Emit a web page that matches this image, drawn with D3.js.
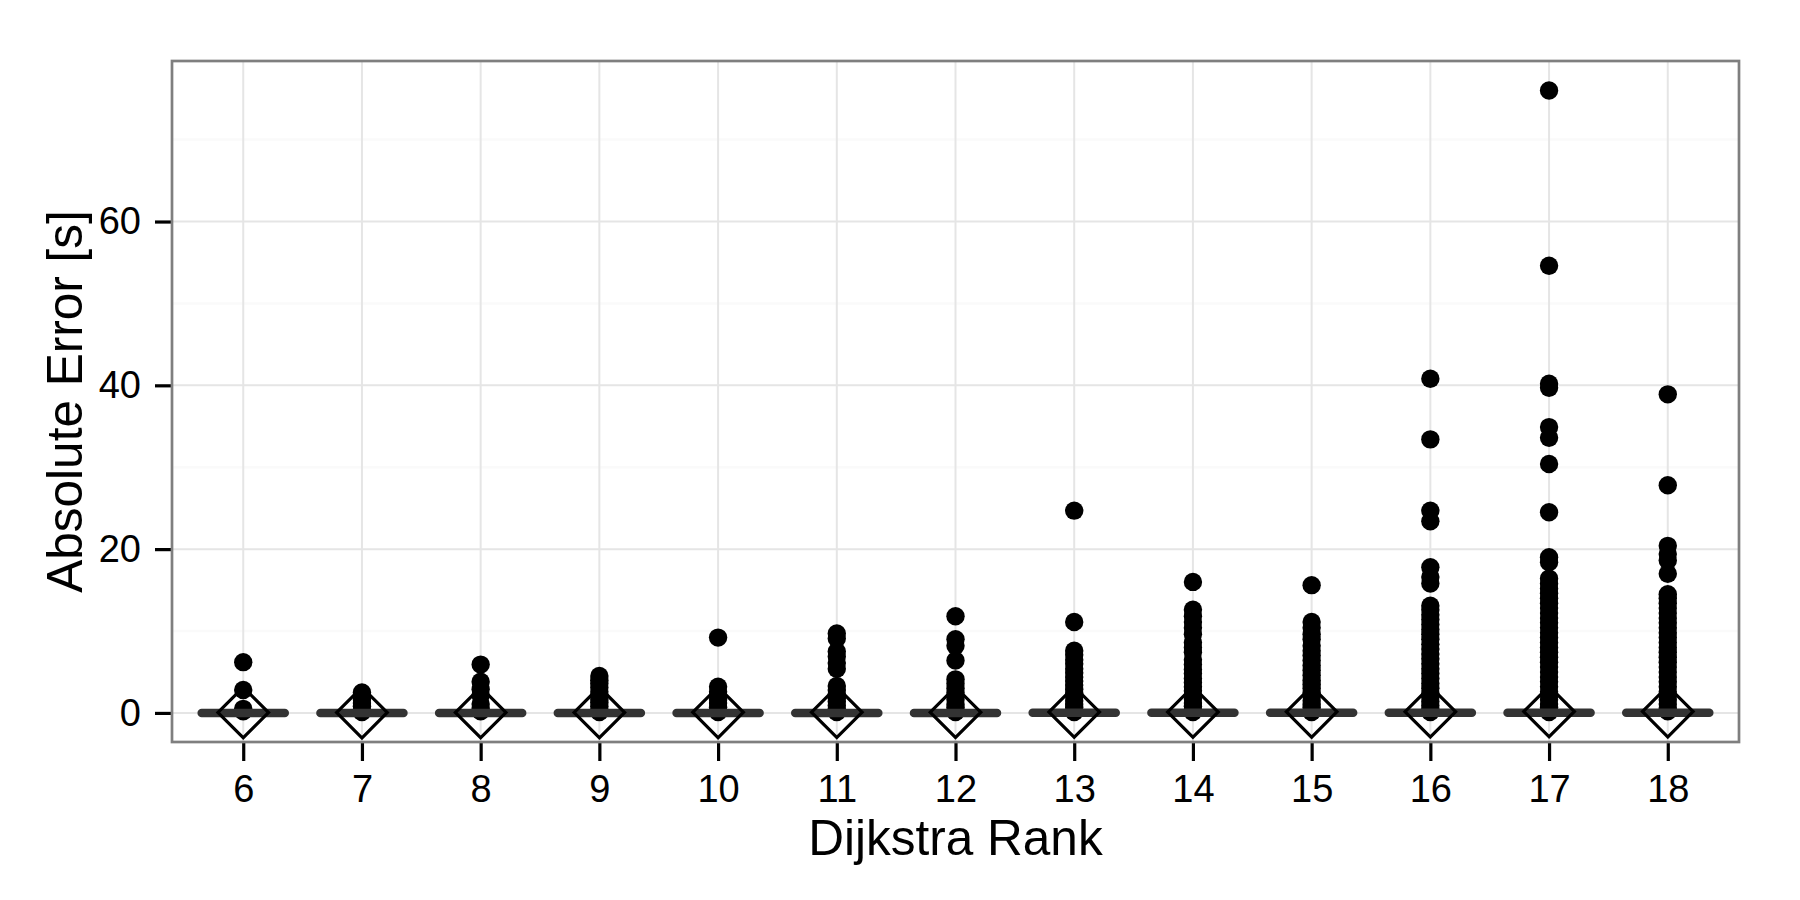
<!DOCTYPE html>
<html>
<head>
<meta charset="utf-8">
<script src="https://d3js.org/d3.v7.min.js"></script>
<style>
  body { margin: 0; background: #fff; }
  text { font-family: "Liberation Sans", Arial, Helvetica, sans-serif; }
</style>
</head>
<body>
<div id="chart"></div>
<script>
// Data
var ranks = [6, 7, 8, 9, 10, 11, 12, 13, 14, 15, 16, 17, 18];

// outlier points (absolute error in seconds) per Dijkstra rank
var rank6 = [6.2, 2.8, 0.5, 0.2];
var rank7 = [2.5, 2.0, 1.6, 1.2, 0.8, 0.4, 0.1];
var rank8 = [5.9, 3.8, 2.9, 2.2, 1.1, 0.6, 0.2];
var rank9 = [4.5, 4.0, 3.6, 3.1, 2.6, 2.2, 1.7, 1.3, 0.8, 0.4, 0.1];
var rank10 = [9.2, 3.2, 2.6, 2.1, 1.6, 1.2, 0.7, 0.3, 0.1];
var rank11 = [9.7, 9.1, 7.5, 6.9, 6.1, 5.4, 3.3, 2.8, 2.3, 1.8, 1.4, 0.9, 0.5, 0.1];
var rank12 = [11.8, 9.0, 8.2, 6.4, 4.1, 3.6, 3.0, 2.5, 2.0, 1.6, 1.1, 0.7, 0.3, 0.1];
var rank13 = [24.7, 11.1, 7.6, 7.1, 6.5, 6.0, 5.4, 4.9, 4.4, 3.9, 3.4, 2.9, 2.4, 2.0, 1.5, 1.1, 0.7, 0.3, 0.1];
var rank14 = [16.0, 12.6, 11.8, 11.1, 10.4, 9.6, 8.6, 8.0, 7.4, 6.5, 5.9, 5.3, 4.8, 4.2, 3.7, 3.2, 2.7, 2.2, 1.7, 1.2, 0.8, 0.4, 0.1];
var rank15 = [15.6, 11.1, 10.4, 9.6, 9.0, 8.2, 7.6, 7.0, 6.4, 5.8, 5.2, 4.6, 4.0, 3.5, 3.0, 2.5, 2.0, 1.5, 1.1, 0.7, 0.3, 0.1];
var rank16 = [40.8, 33.4, 24.7, 23.4, 17.8, 16.6, 15.8, 13.1, 12.6, 12.0, 11.4, 10.8, 10.2, 9.6, 9.0, 8.4, 7.8, 7.2,
              6.6, 6.0, 5.4, 4.8, 4.2, 3.6, 3.0, 2.4, 1.9, 1.4, 0.9, 0.5, 0.1];
var rank17 = [76.0, 54.6, 40.2, 39.7, 34.9, 33.6, 30.4, 24.5, 19.0, 18.4, 16.4, 15.8, 15.2, 14.6, 14.0, 13.4, 12.8,
              12.2, 11.6, 11.0, 10.4, 9.8, 9.2, 8.6, 8.0, 7.4, 6.8, 6.2, 5.6, 5.0, 4.4, 3.8, 3.2, 2.6, 2.1, 1.6, 1.1,
              0.7, 0.3, 0.1];
var rank18 = [38.9, 27.8, 20.4, 19.4, 18.6, 17.0, 14.5, 14.0, 13.4, 12.8, 12.2, 11.6, 11.0, 10.4, 9.8, 9.2, 8.6,
              8.0, 7.4, 6.8, 6.2, 5.6, 5.0, 4.4, 3.8, 3.2, 2.6, 2.1, 1.6, 1.1, 0.6, 0.2];
var outliers = [rank6, rank7, rank8, rank9, rank10, rank11, rank12, rank13, rank14, rank15, rank16, rank17, rank18];

// box statistics (all collapsed near zero) and means
var boxQ1 = [0, 0, 0, 0, 0, 0, 0, 0, 0, 0, 0, 0, 0];
var boxQ3 = [0.01, 0.01, 0.01, 0.01, 0.01, 0.01, 0.01, 0.02, 0.02, 0.02, 0.02, 0.03, 0.02];
var means = [0.05, 0.04, 0.05, 0.06, 0.07, 0.08, 0.09, 0.11, 0.12, 0.13, 0.15, 0.18, 0.16];

var yMajorTicks = [0, 20, 40, 60];
var yMinorTicks = [10, 30, 50, 70];
var yDomain = [-3.55, 79.6];

// Set up Chart
var svgWidth = 1800;
var svgHeight = 900;

var margin = {
  top: 61,
  right: 61,
  bottom: 158,
  left: 172
};

var width = svgWidth - margin.left - margin.right;
var height = svgHeight - margin.top - margin.bottom;

var svg = d3.select("#chart")
  .append("svg")
  .attr("width", svgWidth)
  .attr("height", svgHeight);

svg.append("rect")
  .attr("width", svgWidth)
  .attr("height", svgHeight)
  .attr("fill", "#fff");

var chartGroup = svg.append("g")
  .attr("transform", `translate(${margin.left}, ${margin.top})`);

// Scales
var xScale = d3.scalePoint()
  .domain(ranks)
  .range([0, width])
  .padding(0.6);

var yScale = d3.scaleLinear()
  .domain(yDomain)
  .range([height, 0]);

var boxWidth = xScale.step() * 0.75;

// Grid lines
chartGroup.selectAll(".minor")
  .data(yMinorTicks)
  .enter()
  .append("line")
  .attr("x1", 0)
  .attr("x2", width)
  .attr("y1", d => yScale(d))
  .attr("y2", d => yScale(d))
  .attr("stroke", "#fafafa")
  .attr("stroke-width", 2.5);

chartGroup.selectAll(".majorY")
  .data(yMajorTicks)
  .enter()
  .append("line")
  .attr("x1", 0)
  .attr("x2", width)
  .attr("y1", d => yScale(d))
  .attr("y2", d => yScale(d))
  .attr("stroke", "#e5e5e5")
  .attr("stroke-width", 2);

chartGroup.selectAll(".majorX")
  .data(ranks)
  .enter()
  .append("line")
  .attr("x1", d => xScale(d))
  .attr("x2", d => xScale(d))
  .attr("y1", 0)
  .attr("y2", height)
  .attr("stroke", "#e5e5e5")
  .attr("stroke-width", 2);

// Outlier points
var groups = chartGroup.selectAll(".rank")
  .data(ranks)
  .enter()
  .append("g")
  .attr("class", "rank");

groups.selectAll("circle")
  .data((d, i) => outliers[i].map(v => ({ rank: d, value: v })))
  .enter()
  .append("circle")
  .attr("cx", d => xScale(d.rank))
  .attr("cy", d => yScale(d.value))
  .attr("r", 9.2)
  .attr("fill", "#000");

// Collapsed boxes
groups.append("line")
  .attr("x1", (d, i) => xScale(d) - boxWidth / 2 + 3)
  .attr("x2", (d, i) => xScale(d) + boxWidth / 2 - 3)
  .attr("y1", (d, i) => yScale((boxQ1[i] + boxQ3[i]) / 2))
  .attr("y2", (d, i) => yScale((boxQ1[i] + boxQ3[i]) / 2))
  .attr("stroke", "#333333")
  .attr("stroke-width", 8.5)
  .attr("stroke-linecap", "round");

// Mean diamonds
var diamond = d3.symbol().type(d3.symbolSquare).size(1280);
groups.append("path")
  .attr("d", diamond)
  .attr("transform", (d, i) => `translate(${xScale(d)}, ${yScale(means[i])}) rotate(45)`)
  .attr("fill", "none")
  .attr("stroke", "#000")
  .attr("stroke-width", 3.2);

// Axes
var bottomAxis = d3.axisBottom(xScale).tickSize(19).tickPadding(14);
var leftAxis = d3.axisLeft(yScale).tickValues(yMajorTicks).tickSize(17).tickPadding(14);

var xAxisG = chartGroup.append("g")
  .attr("transform", `translate(0, ${height})`)
  .call(bottomAxis);

var yAxisG = chartGroup.append("g")
  .call(leftAxis);

[xAxisG, yAxisG].forEach(function(g) {
  g.select(".domain").remove();
  g.selectAll(".tick line").attr("stroke", "#000").attr("stroke-width", 3.2);
  g.selectAll(".tick text")
    .attr("fill", "#000")
    .style("font-size", "38px")
    .style("font-family", "'Liberation Sans', Arial, Helvetica, sans-serif");
});

// Panel border
chartGroup.append("rect")
  .attr("width", width)
  .attr("height", height)
  .attr("fill", "none")
  .attr("stroke", "#7f7f7f")
  .attr("stroke-width", 2.7);

// Axis titles
chartGroup.append("text")
  .attr("transform", `translate(${82 - margin.left}, ${height / 2}) rotate(-90)`)
  .attr("text-anchor", "middle")
  .style("font-size", "49.5px")
  .attr("fill", "#000")
  .text("Absolute Error [s]");

chartGroup.append("text")
  .attr("x", width / 2)
  .attr("y", 855 - margin.top)
  .attr("text-anchor", "middle")
  .style("font-size", "49.5px")
  .attr("fill", "#000")
  .text("Dijkstra Rank");
</script>
</body>
</html>
